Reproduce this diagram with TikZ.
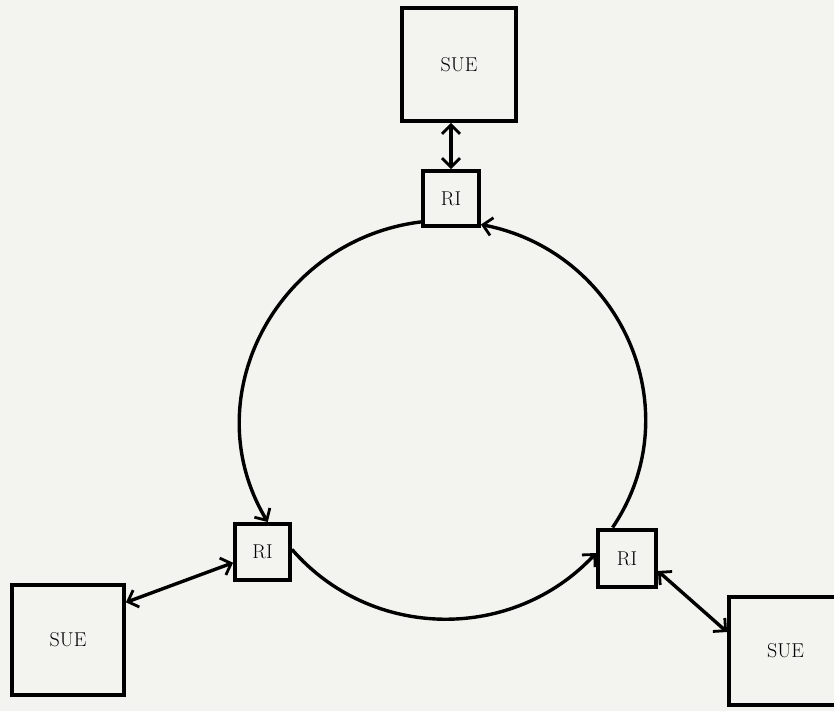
\documentclass[tikz,border=0pt]{standalone}
\usetikzlibrary{arrows.meta}
\definecolor{paper}{HTML}{F3F3EF}
\begin{document}
\begin{tikzpicture}[x=1pt,y=1pt,
  box/.style={draw=black, line width=4.4pt, fill=paper, inner sep=0pt,
    font=\fontsize{20}{22}\selectfont},
  link/.style={line width=3.4pt, arrows={-Straight Barb[length=9pt,width=18pt,line width=2.8pt]}},
  both/.style={line width=3.4pt, arrows={Straight Barb[length=9pt,width=18pt,line width=2.8pt]-Straight Barb[length=9pt,width=18pt,line width=2.8pt]}}]
\fill[paper] (0,0) rectangle (834,711);
\useasboundingbox (0,0) rectangle (834,711);
% boxes
\node[box, minimum width=113.5pt, minimum height=112.5pt] (sueT) at (459,646.5) {SUE};
\node[box, minimum width=55.5pt, minimum height=54.5pt] (riT) at (451,512.5) {RI};
\node[box, minimum width=54.5pt, minimum height=55.5pt] (riL) at (262.5,159) {RI};
\node[box, minimum width=57.5pt, minimum height=57.5pt] (riR) at (627,152.5) {RI};
\node[box, minimum width=111.5pt, minimum height=109.5pt] (sueL) at (68,71) {SUE};
\node[box, minimum width=112.5pt, minimum height=107.5pt] (sueR) at (785.5,60) {SUE};
% ring
\draw[link] (riT.218) to[out=187, in=121, looseness=1.1] (riL.80);
\draw[link] (riL.5) to[out=311, in=227, looseness=1.02] (riR.170);
\draw[link] (riR.115) to[out=56, in=-11, looseness=1.1] (riT.-41);
% SUE links
\draw[both] (riT.north) -- (riT.north |- sueT.south);
\draw[both] (riL.200) -- (sueL.33);
\draw[both] (riR.-22) -- (sueR.162);
\end{tikzpicture}
\end{document}
